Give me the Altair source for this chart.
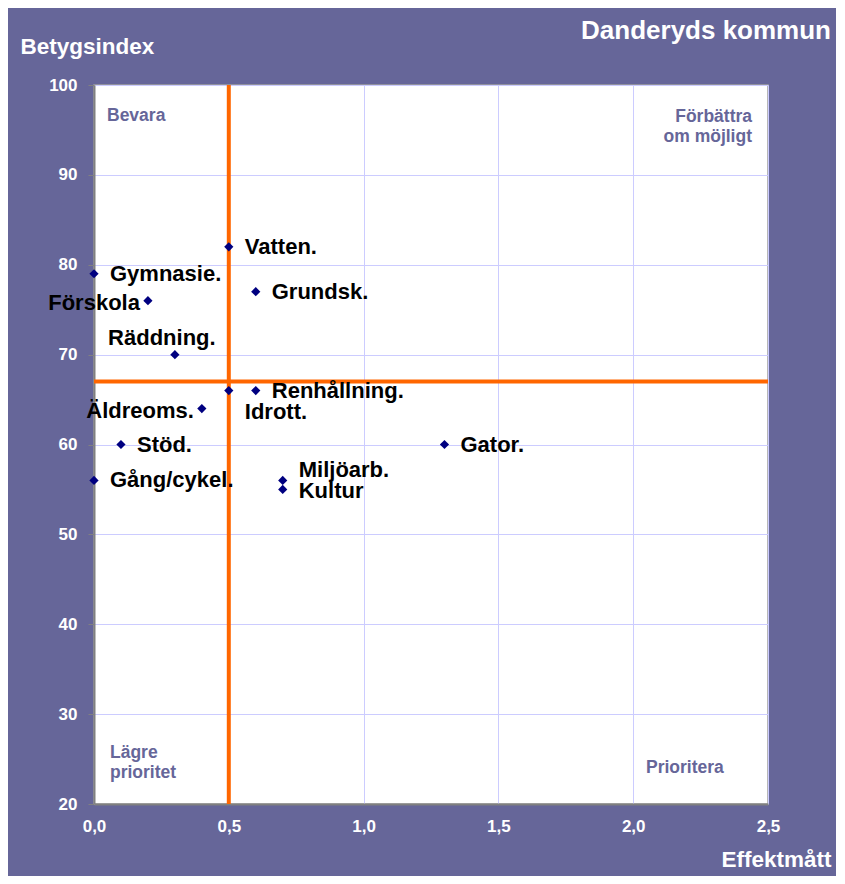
import altair as alt
import pandas as pd

# ---------------- data ----------------
services = ["Vatten.", "Gymnasie.", "Förskola", "Grundsk.", "Räddning.",
            "Renhållning.", "Idrott.", "Äldreoms.", "Stöd.", "Gång/cykel.",
            "Miljöarb.", "Kultur", "Gator."]
effekt = [0.5, 0.0, 0.2, 0.6, 0.3, 0.6, 0.5, 0.4, 0.1, 0.0, 0.7, 0.7, 1.3]
betyg = [82, 79, 76, 77, 70, 66, 66, 64, 60, 56, 56, 55, 60]

x_ticks = [0.0, 0.5, 1.0, 1.5, 2.0, 2.5]
y_ticks = [20, 30, 40, 50, 60, 70, 80, 90, 100]
threshold_x = 0.5
threshold_y = 67

chart_title = "Danderyds kommun"
y_title = "Betygsindex"
x_title = "Effektmått"
quadrant_texts = ["Bevara", "Förbättra\nom möjligt", "Lägre\nprioritet", "Prioritera"]

# ---------------- styling ----------------
FONT = "Liberation Sans"
BG = "#666699"
ORANGE = "#FF6600"
NAVY = "#000080"
GRID = "#CCCCFF"

# label placement relative to its point (style, not data)
placement_of = {"Förskola": "left", "Äldreoms.": "left", "Räddning.": "above",
                "Idrott.": "below", "Miljöarb.": "upper", "Kultur": "lower"}
placements = {
    "right": dict(align="left", dx=16, dy=0),
    "left": dict(align="right", dx=-8, dy=2),
    "above": dict(align="center", dx=-13, dy=-17),
    "below": dict(align="left", dx=16, dy=21),
    "upper": dict(align="left", dx=16, dy=-10),
    "lower": dict(align="left", dx=16, dy=2),
}

df = pd.DataFrame({"service": services, "effekt": effekt, "betyg": betyg})
df["placement"] = [placement_of.get(s, "right") for s in services]

xscale = alt.Scale(domain=[0, 2.5], nice=False, zero=False)
yscale = alt.Scale(domain=[20, 100], nice=False, zero=False)

x_enc = alt.X(
    "effekt:Q", scale=xscale,
    axis=alt.Axis(
        values=x_ticks, labelExpr="replace(format(datum.value, '.1f'), '.', ',')",
        title=x_title, titleX=737, titleY=62, titleAlign="right",
        titleBaseline="alphabetic", titleAngle=0,
        ticks=False, labelPadding=14, labelFlush=False, labelOverlap=False,
    ),
)
y_enc = alt.Y(
    "betyg:Q", scale=yscale,
    axis=alt.Axis(
        values=y_ticks, format="d",
        title=y_title, titleX=-74, titleY=-32, titleAlign="left",
        titleBaseline="alphabetic", titleAngle=0,
        ticks=True, tickSize=6, tickColor="#808080", labelPadding=11,
        labelFlush=False, labelOverlap=False,
    ),
)

base = alt.Chart(df)

v_rule = alt.Chart(pd.DataFrame({"k": [0]})).mark_rule(
    color=ORANGE, strokeWidth=4).encode(x=alt.datum(threshold_x))
h_rule = alt.Chart(pd.DataFrame({"k": [0]})).mark_rule(
    color=ORANGE, strokeWidth=4).encode(y=alt.datum(threshold_y))

points = base.mark_point(shape="diamond", filled=True, color=NAVY, size=85,
                         opacity=1).encode(x=x_enc, y=y_enc)

label_layers = []
for name, p in placements.items():
    label_layers.append(
        base.transform_filter(alt.datum.placement == name).mark_text(
            font=FONT, fontSize=22, fontWeight="bold", color="black",
            baseline="middle", align=p["align"], dx=p["dx"], dy=p["dy"],
        ).encode(x="effekt:Q", y="betyg:Q", text="service:N")
    )


def quad(text, x, y, align):
    return alt.Chart(pd.DataFrame({"t": [text]})).mark_text(
        font=FONT, fontSize=17.5, fontWeight="bold", color=BG,
        align=align, baseline="alphabetic", lineBreak="\n", lineHeight=20,
    ).encode(text="t:N", x=alt.value(x), y=alt.value(y))


quads = [
    quad(quadrant_texts[0], 13, 36, "left"),
    quad(quadrant_texts[1], 658, 37, "right"),
    quad(quadrant_texts[2], 16, 673, "left"),
    quad(quadrant_texts[3], 552, 688, "left"),
]

title_mark = alt.Chart(pd.DataFrame({"t": [chart_title]})).mark_text(
    font=FONT, fontSize=26, fontWeight="bold", color="white",
    align="right", baseline="alphabetic",
).encode(text="t:N", x=alt.value(737), y=alt.value(-46))

chart = alt.layer(
    v_rule, h_rule, points, *label_layers, *quads, title_mark
).properties(
    width=674, height=719,
    autosize=alt.AutoSizeParams(type="none"),
    padding={"left": 86, "top": 77, "right": 68, "bottom": 72},
    background=BG,
).configure_view(
    stroke="#a0a0a0", strokeWidth=1.5, fill="white"
).configure_axis(
    labelFont=FONT, labelFontSize=17, labelFontWeight="bold", labelColor="white",
    titleFont=FONT, titleFontSize=22.5, titleFontWeight="bold", titleColor="white",
    domainColor="#808080", domainWidth=2,
    grid=True, gridColor=GRID, gridWidth=1,
)

chart.save("out.html", embed_options={"renderer": "svg", "actions": False})
